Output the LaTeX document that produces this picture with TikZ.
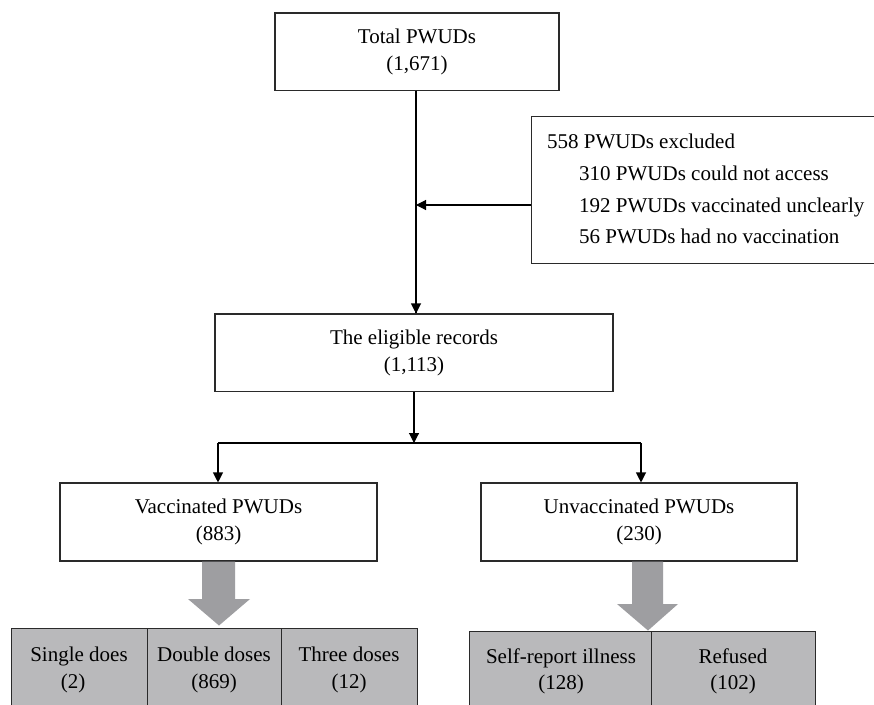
\documentclass[tikz,border=0pt]{standalone}
\usepackage{fontspec}
\setmainfont{Liberation Serif}
\usetikzlibrary{arrows.meta}
\definecolor{linec}{HTML}{2A2A2A}
\definecolor{grayarrow}{HTML}{9E9EA1}
\definecolor{grayfill}{HTML}{B9B9BB}
\tikzset{
  box/.style={draw=linec, line width=1.1pt, fill=white, inner sep=0pt, align=center,
    font=\fontsize{21}{27.5}\selectfont},
  graybox/.style={draw=linec, line width=1.1pt, fill=grayfill, inner sep=0pt},
  lbl/.style={font=\fontsize{21}{27.5}\selectfont, inner sep=0pt, align=center},
  exlbl/.style={font=\fontsize{21}{27.5}\selectfont, inner sep=0pt, anchor=base west},
  conn/.style={draw=black, line width=1.1pt, -{Triangle[length=10pt,width=10pt]}},
  plain/.style={draw=black, line width=1.1pt},
  fatarrow/.style={fill=grayarrow, draw=none}
}
\begin{document}
\begin{tikzpicture}[x=1pt,y=-1pt]
\useasboundingbox (0,0) rectangle (874,704);
\clip (0,0) rectangle (874,704);
\fill[white] (0,0) rectangle (874,704);

% main boxes
\node[box, minimum width=284pt, minimum height=77.5pt] (total) at (417,51.75) {Total PWUDs\\(1,671)};
\node[box, minimum width=398pt, minimum height=77.5pt] (elig) at (414,352.75) {The eligible records\\(1,113)};
\node[box, minimum width=317pt, minimum height=78pt] (vacc) at (218.5,522) {Vaccinated PWUDs\\(883)};
\node[box, minimum width=316pt, minimum height=78pt] (unvacc) at (639,522) {Unvaccinated PWUDs\\(230)};

% exclusion box
\node[box, minimum width=347pt, minimum height=147pt, anchor=north west] (excl) at (531,116) {};
\node[exlbl] (ex0) at (547,148) {558 PWUDs excluded};
\node[exlbl] (ex1) at (579,180) {310 PWUDs could not access};
\node[exlbl] (ex2) at (579,212) {192 PWUDs vaccinated unclearly};
\node[exlbl] (ex3) at (579,243) {56 PWUDs had no vaccination};

% connectors
\coordinate (vline) at (416,205);
\draw[plain] (416,90.5) coordinate (tb) -- (416,313);
\draw[conn] (tb) -- (tb |- elig.north);
\draw[conn] (excl.west |- vline) -- (vline);
\coordinate (split) at (414,443);
\draw[conn] (elig.south -| split) -- (split);
\coordinate (sl) at (218,443);
\coordinate (sr) at (641,443);
\draw[plain] (sl) -- (sr);
\draw[conn] (sl) -- (sl |- vacc.north);
\draw[conn] (sr) -- (sr |- unvacc.north);

% fat gray arrows
\fill[fatarrow] (202,561.5) -- (235,561.5) -- (235,599) -- (250,599) -- (219,625.5) -- (188,599) -- (202,599) -- cycle;
\fill[fatarrow] (632,561.5) -- (663,561.5) -- (663,604) -- (678,604) -- (648,630.5) -- (617,604) -- (632,604) -- cycle;

% gray boxes (vaccinated)
\node[graybox, minimum width=136pt, minimum height=80pt, anchor=north west] (single) at (11,628) {};
\node[graybox, minimum width=134pt, minimum height=80pt, anchor=north west] (double) at (147,628) {};
\node[graybox, minimum width=136pt, minimum height=80pt, anchor=north west] (three) at (281,628) {};
\node[lbl, anchor=base] (t1) at (79,661) {Single does};
\node[lbl, anchor=base] (t1b) at (73,688) {(2)};
\node[lbl, anchor=base] (t2) at (214,661) {Double doses};
\node[lbl, anchor=base] (t2b) at (214,688) {(869)};
\node[lbl, anchor=base] (t3) at (349,661) {Three doses};
\node[lbl, anchor=base] (t3b) at (349,688) {(12)};

% gray boxes (unvaccinated)
\node[graybox, minimum width=182pt, minimum height=80pt, anchor=north west] (self) at (469,631) {};
\node[graybox, minimum width=164pt, minimum height=80pt, anchor=north west] (refused) at (651,631) {};
\node[lbl, anchor=base] (t4) at (561,663) {Self-report illness};
\node[lbl, anchor=base] (t4b) at (561,689) {(128)};
\node[lbl, anchor=base] (t5) at (733,663) {Refused};
\node[lbl, anchor=base] (t5b) at (733,689) {(102)};
\end{tikzpicture}
\end{document}
